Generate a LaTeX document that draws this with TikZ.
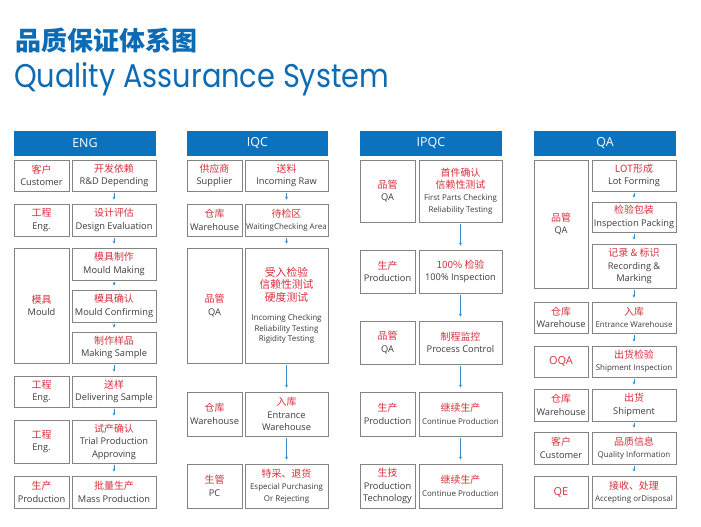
\documentclass[tikz,border=0pt]{standalone}
\usepackage{fontspec}
\setmainfont{Open Sans}
\newfontfamily\cjk{Noto Sans CJK SC}
\newfontfamily\titlefont{Poppins}
\usetikzlibrary{arrows.meta}
\definecolor{hdrblue}{HTML}{0D72BE}
\definecolor{ttlblue}{HTML}{0B6BB5}
\definecolor{zhred}{HTML}{D7303C}
\definecolor{engray}{HTML}{3C3C3C}
\definecolor{boxgray}{HTML}{848484}
\definecolor{arrblue}{HTML}{3A8CC8}
\newcommand\zhtx[1]{{\cjk\fontsize{10}{12.5}\selectfont\color{zhred}#1}}
\newcommand\zhtxL[1]{{\cjk\fontsize{10.8}{12.5}\selectfont\color{zhred}#1}}
\newcommand\entx[1]{{\fontsize{9.3}{12.5}\selectfont\color{engray}#1}}
\newcommand\ents[1]{{\fontsize{8}{12.5}\selectfont\color{engray}#1}}
\newcommand\latred[1]{{\fontsize{11}{12.5}\selectfont\color{zhred}#1}}
\newcommand\qbox[7][qb]{\node[#1, minimum width={(#5-#3)*1bp}, minimum height={(#6-#4)*1bp}] (#2) at ({(#3+#5)/2},{(#4+#6)/2}) {#7};}
\tikzset{
  qb/.style={draw=boxgray, line width=0.7bp, fill=white, inner sep=1bp, align=center, font=\fontsize{9}{12.5}\selectfont},
  hdr/.style={fill=hdrblue, draw=none, inner sep=0pt, text=white, font=\fontsize{12.5}{14}\selectfont},
  arr/.style={draw=arrblue, line width=0.8bp, -{Stealth[length=3bp,width=3bp]}, shorten <=1.5bp, shorten >=4bp}
}
\begin{document}
\begin{tikzpicture}[x=1bp,y=-1bp]
\useasboundingbox (0,0) rectangle (701,527);
% titles
\node[anchor=base west, inner sep=0pt, text=ttlblue] (t1) at (15,50.5) {\resizebox{182bp}{!}{\cjk\bfseries 品质保证体系图}};
\node[anchor=base west, inner sep=0pt, text=ttlblue] (t2) at (14,88) {\resizebox{375bp}{25bp}{\titlefont Quality Assurance System}};
% ===== ENG =====
\qbox[hdr]{engH}{14}{131}{156}{156}{ENG}
\qbox{e1l}{14}{160}{69}{191}{\zhtx{客户}\\\entx{Customer}}
\qbox{e1r}{72}{160}{156}{191}{\zhtx{开发依赖}\\\entx{R\&D Depending}}
\qbox{e2l}{14}{204}{69}{236}{\zhtx{工程}\\\entx{Eng.}}
\qbox{e2r}{72}{204}{156}{236}{\zhtx{设计评估}\\\entx{Design Evaluation}}
\qbox{e3l}{14}{248}{69}{363}{\zhtx{模具}\\\entx{Mould}}
\qbox{e3a}{72}{248}{156}{280}{\zhtx{模具制作}\\\entx{Mould Making}}
\qbox{e3b}{72}{290}{156}{322}{\zhtx{模具确认}\\\entx{Mould Confirming}}
\qbox{e3c}{72}{332}{156}{363}{\zhtx{制作样品}\\\entx{Making Sample}}
\qbox{e4l}{14}{376}{69}{407}{\zhtx{工程}\\\entx{Eng.}}
\qbox{e4r}{72}{376}{156}{407}{\zhtx{送样}\\\entx{Delivering Sample}}
\qbox{e5l}{14}{420}{69}{463}{\zhtx{工程}\\\entx{Eng.}}
\qbox{e5r}{72}{420}{156}{463}{\zhtx{试产确认}\\\entx{Trial Production}\\\entx{Approving}}
\qbox{e6l}{14}{476}{69}{508}{\zhtx{生产}\\\entx{Production}}
\qbox{e6r}{72}{476}{156}{508}{\zhtx{批量生产}\\\entx{Mass Production}}
\draw[arr] (e1r) -- (e2r);
\draw[arr] (e2r) -- (e3a);
\draw[arr] (e3a) -- (e3b);
\draw[arr] (e3b) -- (e3c);
\draw[arr] (e3c) -- (e4r);
\draw[arr] (e4r) -- (e5r);
\draw[arr] (e5r) -- (e6r);
% ===== IQC =====
\qbox[hdr]{iqH}{187}{131}{328}{156}{IQC}
\qbox{i1l}{187}{160}{242}{191}{\zhtx{供应商}\\\entx{Supplier}}
\qbox{i1r}{245}{160}{328}{191}{\zhtx{送料}\\\entx{Incoming Raw}}
\qbox{i2l}{187}{204}{242}{236}{\zhtx{仓库}\\\entx{Warehouse}}
\qbox{i2r}{245}{204}{328}{236}{\zhtx{待检区}\\\ents{WaitingChecking Area}}
\qbox{i3l}{187}{248}{242}{363}{\zhtx{品管}\\\entx{QA}}
\qbox{i3r}{245}{248}{328}{363}{\zhtxL{受入检验}\\\zhtxL{信赖性测试}\\\zhtxL{硬度测试}\\[7bp]\ents{Incoming Checking}\\[-2bp]\ents{Reliability Testing}\\[-2bp]\ents{Rigidity Testing}}
\qbox{i4l}{187}{392}{242}{436}{\zhtx{仓库}\\\entx{Warehouse}}
\qbox{i4r}{245}{392}{328}{436}{\zhtx{入库}\\\entx{Entrance}\\\entx{Warehouse}}
\qbox{i5l}{187}{464}{242}{508}{\zhtx{生管}\\\entx{PC}}
\qbox{i5r}{245}{464}{328}{508}{\zhtx{特采、退货}\\\ents{Especial Purchasing}\\[-1bp]\ents{Or Rejecting}}
\draw[arr] (i1r) -- (i2r);
\draw[arr] (i2r) -- (i3r);
\draw[arr] (i3r) -- (i4r);
\draw[arr] (i4r) -- (i5r);
% ===== IPQC =====
\qbox[hdr]{ipH}{360}{131}{502}{156}{IPQC}
\qbox{p1l}{360}{160}{415}{222}{\zhtx{品管}\\\entx{QA}}
\qbox{p1r}{419}{160}{502}{222}{\zhtx{首件确认}\\\zhtx{信赖性测试}\\\ents{First Parts Checking}\\[-1bp]\ents{Reliability Testing}}
\qbox{p2l}{360}{250}{415}{293}{\zhtx{生产}\\\entx{Production}}
\qbox{p2r}{419}{250}{502}{293}{\zhtx{100\% 检验}\\\entx{100\% Inspection}}
\qbox{p3l}{360}{321}{415}{364}{\zhtx{品管}\\\entx{QA}}
\qbox{p3r}{419}{321}{502}{364}{\zhtx{制程监控}\\\entx{Process Control}}
\qbox{p4l}{360}{392}{415}{436}{\zhtx{生产}\\\entx{Production}}
\qbox{p4r}{419}{392}{502}{436}{\zhtx{继续生产}\\\ents{Continue Production}}
\qbox{p5l}{360}{464}{415}{508}{\zhtx{生技}\\\entx{Production}\\\entx{Technology}}
\qbox{p5r}{419}{464}{502}{508}{\zhtx{继续生产}\\\ents{Continue Production}}
\draw[arr] (p1r) -- (p2r);
\draw[arr] (p2r) -- (p3r);
\draw[arr] (p3r) -- (p4r);
\draw[arr] (p4r) -- (p5r);
% ===== QA =====
\qbox[hdr]{qaH}{534}{131}{676}{156}{QA}
\qbox{q1l}{534}{160}{588}{288}{\zhtx{品管}\\\entx{QA}}
\qbox{q1a}{592}{160}{676}{191}{\zhtx{LOT形成}\\\entx{Lot Forming}}
\qbox{q1b}{592}{202}{676}{232}{\zhtx{检验包装}\\\entx{Inspection Packing}}
\qbox{q1c}{592}{244}{676}{288}{\zhtx{记录 \& 标识}\\\entx{Recording \&}\\\entx{Marking}}
\qbox{q2l}{534}{302}{588}{333}{\zhtx{仓库}\\\entx{Warehouse}}
\qbox{q2r}{592}{302}{676}{333}{\zhtx{入库}\\\ents{Entrance Warehouse}}
\qbox{q3l}{534}{346}{588}{377}{\latred{OQA}}
\qbox{q3r}{592}{346}{676}{377}{\zhtx{出货检验}\\\ents{Shipment Inspection}}
\qbox{q4l}{534}{389}{588}{421}{\zhtx{仓库}\\\entx{Warehouse}}
\qbox{q4r}{592}{389}{676}{421}{\zhtx{出货}\\\entx{Shipment}}
\qbox{q5l}{534}{432}{588}{464}{\zhtx{客户}\\\entx{Customer}}
\qbox{q5r}{592}{432}{676}{464}{\zhtx{品质信息}\\\ents{Quality Information}}
\qbox{q6l}{534}{476}{588}{508}{\latred{QE}}
\qbox{q6r}{592}{476}{676}{508}{\zhtx{接收、处理}\\\ents{Accepting orDisposal}}
\draw[arr] (q1a) -- (q1b);
\draw[arr] (q1b) -- (q1c);
\draw[arr] (q1c) -- (q2r);
\draw[arr] (q2r) -- (q3r);
\draw[arr] (q3r) -- (q4r);
\draw[arr] (q4r) -- (q5r);
\draw[arr] (q5r) -- (q6r);
\end{tikzpicture}
\end{document}
